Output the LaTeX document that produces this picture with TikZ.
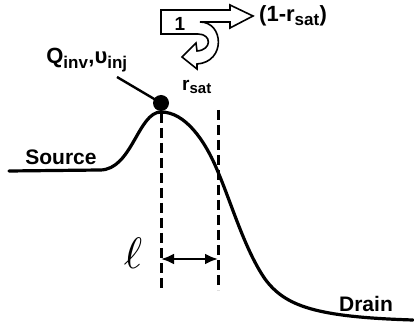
\documentclass[tikz,border=0pt]{standalone}
\usepackage{fontspec}
\setmainfont{Liberation Sans}
\usetikzlibrary{arrows.meta}
\tikzset{
  lbl/.style={inner sep=0pt, font=\bfseries\fontsize{21}{23}\selectfont},
  lblsm/.style={inner sep=0pt, font=\bfseries\fontsize{19}{21}\selectfont},
  lblbig/.style={inner sep=0pt, font=\bfseries\fontsize{22}{24}\selectfont},
  curve/.style={line width=3.2pt, line cap=round},
  guide/.style={line width=3pt, dash pattern=on 10pt off 5pt},
  outline/.style={line width=1.6pt, line join=miter},
}
\newcommand{\sbs}[1]{\textsubscript{\fontsize{15}{15}\selectfont\bfseries #1}}
\newcommand{\sbb}[1]{\textsubscript{\fontsize{17}{17}\selectfont\bfseries #1}}
\begin{document}
\begin{tikzpicture}[x=1pt,y=-1pt]
\useasboundingbox (0,0) rectangle (414,328);
% curl arrow
\draw[outline] (161,10) -- (230,10) -- (230,5) -- (253,16) -- (230,28) -- (230,22) -- (200,22)
  .. controls (224,22) and (226,62) .. (197,64) -- (197,69) -- (182,57) -- (196,43) -- (197,51)
  .. controls (212,50) and (212,34) .. (198,34) -- (161,34) -- cycle;
\node[lblsm] (one) at (180,24) {1};
\node[lblbig,anchor=west] (out) at (259,16) {(1-r\sbb{sat})};
\node[lblsm] (rsat) at (197,87) {r\sbs{sat}};
% potential curve
\coordinate (s0) at (9,171);
\coordinate (peak) at (161,112);
\coordinate (d0) at (413,320);
\draw[curve] (s0) -- (100,170) .. controls (132,170) and (138,112) .. (peak)
  .. controls (185,112) and (205,140) .. (218,172)
  .. controls (232,205) and (245,250) .. (265,279)
  .. controls (285,306) and (315,317) .. (d0);
\node[lbl] (src) at (61,157) {Source};
\node[lbl] (drn) at (366,304) {Drain};
% guides
\coordinate (lt) at (161,113);
\coordinate (lb) at (161,290);
\coordinate (rt) at (218,110);
\coordinate (rb) at (218,290);
\draw[guide] (lt) -- (lb);
\draw[guide] (rt) -- (rb);
\coordinate (al) at (161,259);
\coordinate (ar) at (218,259);
\draw[line width=2.4pt, {Latex[length=13pt,width=11pt]}-{Latex[length=13pt,width=11pt]}] (al) -- (ar);
\node[inner sep=0pt, scale=4.4] (ell) at (133,253) {$\ell$};
% injection point
\node[circle, fill=black, inner sep=0pt, minimum size=16pt] (dot) at (161,103) {};
\node[lblbig] (q) at (87,60) {Q\sbb{inv},υ\sbb{inj}};
\coordinate (qe) at (117,77);
\draw[line width=2.4pt] (qe) -- (dot.center);
\end{tikzpicture}
\end{document}
